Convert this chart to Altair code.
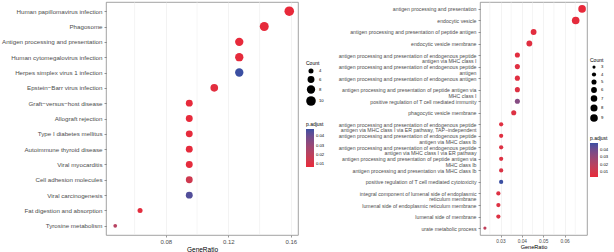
import altair as alt
import pandas as pd
import textwrap

# ---------------- KEGG panel data ----------------
kegg_terms = [
    "Human papillomavirus infection", "Phagosome",
    "Antigen processing and presentation", "Human cytomegalovirus infection",
    "Herpes simplex virus 1 infection", "Epstein−Barr virus infection",
    "Graft−versus−host disease", "Allograft rejection", "Type I diabetes mellitus",
    "Autoimmune thyroid disease", "Viral myocarditis", "Cell adhesion molecules",
    "Viral carcinogenesis", "Fat digestion and absorption", "Tyrosine metabolism",
]
kegg_ratio = [0.159, 0.143, 0.127, 0.127, 0.127, 0.111, 0.095, 0.095, 0.095,
              0.095, 0.095, 0.095, 0.095, 0.0635, 0.0476]
kegg_count = [10, 9, 8, 8, 8, 7, 6, 6, 6, 6, 6, 6, 6, 4, 3]
kegg_padj = [0.0070, 0.0075, 0.0072, 0.0078, 0.0480, 0.0090, 0.0072, 0.0074,
             0.0076, 0.0078, 0.0080, 0.0150, 0.0450, 0.0085, 0.0220]
kegg_major = [0.08, 0.12, 0.16]
kegg_minor = [0.06, 0.10, 0.14]

# ---------------- GO panel data ----------------
go_terms = [
    "antigen processing and presentation",
    "endocytic vesicle",
    "antigen processing and presentation of peptide antigen",
    "endocytic vesicle membrane",
    "antigen processing and presentation of endogenous peptide antigen via MHC class I",
    "antigen processing and presentation of endogenous peptide antigen",
    "antigen processing and presentation of endogenous antigen",
    "antigen processing and presentation of peptide antigen via MHC class I",
    "positive regulation of T cell mediated immunity",
    "phagocytic vesicle membrane",
    "antigen processing and presentation of endogenous peptide antigen via MHC class I via ER pathway, TAP−independent",
    "antigen processing and presentation of endogenous peptide antigen via MHC class Ib",
    "antigen processing and presentation of endogenous peptide antigen via MHC class I via ER pathway",
    "antigen processing and presentation of peptide antigen via MHC class Ib",
    "antigen processing and presentation via MHC class Ib",
    "positive regulation of T cell mediated cytotoxicity",
    "integral component of lumenal side of endoplasmic reticulum membrane",
    "lumenal side of endoplasmic reticulum membrane",
    "lumenal side of membrane",
    "urate metabolic process",
]
go_ratio = [0.0682, 0.0652, 0.0455, 0.0435, 0.0379, 0.0379, 0.0379, 0.0379,
            0.0379, 0.0362, 0.0303, 0.0303, 0.0303, 0.0303, 0.0303, 0.0303,
            0.0290, 0.0290, 0.0290, 0.0227]
go_count = [9, 9, 6, 6, 5, 5, 5, 5, 5, 5, 4, 4, 4, 4, 4, 4, 4, 4, 4, 3]
go_padj = [0.0030, 0.0040, 0.0050, 0.0060, 0.0050, 0.0060, 0.0060, 0.0070,
           0.0350, 0.0070, 0.0060, 0.0060, 0.0070, 0.0070, 0.0080, 0.0495,
           0.0070, 0.0070, 0.0070, 0.0170]
go_major = [0.03, 0.04, 0.05, 0.06]
go_minor = [0.025, 0.035, 0.045, 0.055, 0.065]

RED = "#E8293A"
BLUE = "#3B4FA2"
FONT = "Liberation Sans"
GRID = "#EBEBEB"


def wrap(t, width=58):
    return "|".join(textwrap.wrap(t, width))


def panel(terms, ratio, count, padj, major, minor, xdom, w, h, size_rng,
          size_vals, lab_fs, tick_fs, title_fs, lab_pad, leg_x, leg_y1, leg_y2,
          grad_len, row_pad):
    labels = [wrap(t) for t in terms]
    df = pd.DataFrame({"term": labels, "GeneRatio": ratio, "Count": count,
                       "padj": padj})
    minor_df = pd.DataFrame({"v": minor})
    xs = alt.Scale(domain=xdom, nice=False, zero=False)
    xaxis = alt.Axis(values=major, format=".2f", title="GeneRatio",
                     labelOverlap=False, labelFlush=False,
                     labelFontSize=tick_fs, titleFontSize=title_fs,
                     labelColor="#4D4D4D", titleColor="#000000",
                     titleFontWeight="normal", titlePadding=2,
                     labelPadding=1, tickSize=2, tickWidth=0.5,
                     tickColor="#333333", domain=False,
                     gridColor=GRID, gridWidth=0.6,
                     labelFont=FONT, titleFont=FONT)
    grid = alt.Chart(minor_df).mark_rule(color=GRID, strokeWidth=0.5).encode(
        x=alt.X("v:Q", scale=xs, axis=xaxis)
    )
    pts = alt.Chart(df).mark_circle(opacity=1).encode(
        x=alt.X("GeneRatio:Q", scale=xs, axis=xaxis),
        y=alt.Y("term:N", sort=labels,
                scale=alt.Scale(type="point", padding=0.6),
                axis=alt.Axis(title=None, labelFontSize=lab_fs,
                              labelColor="#4D4D4D", labelPadding=lab_pad,
                              labelExpr="split(datum.label, '|')",
                              labelLineHeight=lab_fs * 1.05,
                              labelLimit=400, tickSize=2, tickWidth=0.5,
                              tickColor="#333333", domain=False,
                              gridColor=GRID, gridWidth=0.6,
                              labelFont=FONT)),
        size=alt.Size("Count:Q",
                      scale=alt.Scale(domain=[min(count), max(count)],
                                      range=size_rng, zero=False),
                      legend=alt.Legend(values=size_vals, title="Count",
                                        orient="none", legendX=leg_x,
                                        legendY=leg_y1, symbolFillColor="black",
                                        symbolStrokeColor="black",
                                        symbolStrokeWidth=0,
                                        symbolOpacity=1, titleFontSize=5,
                                        labelFontSize=4.2, titleFont=FONT,
                                        labelFont=FONT, titleFontWeight="normal",
                                        rowPadding=row_pad, labelOffset=3,
                                        titlePadding=2)),
        color=alt.Color("padj:Q",
                        scale=alt.Scale(domain=[min(padj), max(padj)],
                                        range=[RED, BLUE], interpolate="lab"),
                        legend=alt.Legend(title="p.adjust",
                                          values=[0.01, 0.02, 0.03, 0.04],
                                          orient="none", legendX=leg_x,
                                          legendY=leg_y2, gradientLength=grad_len,
                                          gradientThickness=8,
                                          titleFontSize=5, labelFontSize=4.2,
                                          titleFont=FONT, labelFont=FONT,
                                          titleFontWeight="normal",
                                          labelOffset=2, titlePadding=2,
                                          gradientStrokeWidth=0)),
    )
    return alt.layer(grid, pts).properties(width=w, height=h)


left = panel(kegg_terms, kegg_ratio, kegg_count, kegg_padj, kegg_major,
             kegg_minor, [0.0417, 0.1646], 192, 233, [14, 92], [4, 6, 8, 10],
             6.2, 6.0, 6.5, 2, 200, 59, 120, 38, 2)
right = panel(go_terms, go_ratio, go_count, go_padj, go_major, go_minor,
              [0.0204, 0.0705], 107, 233, [10, 58], [3, 4, 5, 6, 7, 8, 9],
              5.2, 4.8, 5.6, 2, 110, 56, 134, 34, 2)

chart = alt.hconcat(left, right, spacing=11).resolve_scale(
    x="independent", y="independent", size="independent", color="independent"
).properties(
    padding={"left": 1, "top": 1, "right": 0, "bottom": 0},
    background="white",
).configure_view(stroke="#8A8A8A", strokeWidth=0.8)

chart.save("out.html", embed_options={"renderer": "svg", "actions": False})
